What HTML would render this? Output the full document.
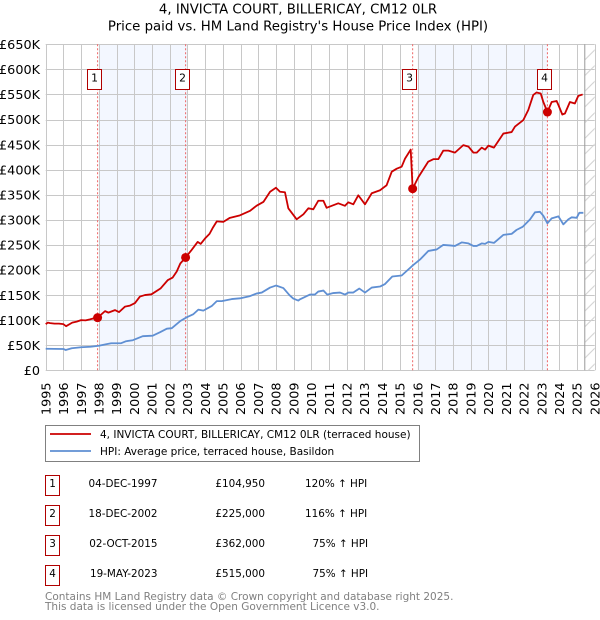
<!DOCTYPE html>
<html lang="en">
<head>
<meta charset="utf-8">
<title>4, INVICTA COURT, BILLERICAY, CM12 0LR</title>
<style>
html,body{margin:0;padding:0;background:#fff;}
svg{display:block;font-family:"DejaVu Sans","Liberation Sans",sans-serif;}
</style>
</head>
<body>
<svg id="chart" xmlns="http://www.w3.org/2000/svg" width="600" height="620" viewBox="0 0 600 620">
  <defs>
    <pattern id="hatch" patternUnits="userSpaceOnUse" width="15.7" height="15.7" patternTransform="translate(584.7 44.3)">
      <path d="M0 15.7L15.7 0" stroke="#d0d0d0" stroke-width="1" fill="none"/>
    </pattern>
  </defs>
  <text x="298" y="13.5" text-anchor="middle" font-size="13.3" fill="#000">4, INVICTA COURT, BILLERICAY, CM12 0LR</text>
  <text x="298" y="30.5" text-anchor="middle" font-size="13.3" fill="#000">Price paid vs. HM Land Registry's House Price Index (HPI)</text>
  <g id="bands"></g>
  <g id="grid"></g>
  <g id="future"></g>
  <g id="guides"></g>
  <g id="series"></g>
  <g id="markers"></g>
  <g id="labels"></g>
  <g id="yticks"></g>
  <g id="xticks"></g>

  <g>
    <rect x="45.5" y="425.5" width="374" height="36" fill="#fff" stroke="#808080" stroke-width="1"/>
    <line x1="50" x2="91" y1="434" y2="434" stroke="#cc0000" stroke-width="1.8"/>
    <text x="100" y="438" font-size="10.5" fill="#000">4, INVICTA COURT, BILLERICAY, CM12 0LR (terraced house)</text>
    <line x1="50" x2="91" y1="451" y2="451" stroke="#5f8fd3" stroke-width="1.8"/>
    <text x="100" y="455" font-size="10.5" fill="#000">HPI: Average price, terraced house, Basildon</text>
  </g>

  <g font-size="10.4" fill="#000">
    <g>
      <rect x="45.5" y="475.5" width="14" height="20" fill="#fff" stroke="#b00000"/>
      <text x="52.5" y="487" text-anchor="middle">1</text>
      <text x="157.5" y="487" text-anchor="end">04-DEC-1997</text>
      <text x="265" y="487" text-anchor="end">£104,950</text>
      <text x="305" y="487">120% ↑ HPI</text>
    </g>
    <g>
      <rect x="45.5" y="505.5" width="14" height="20" fill="#fff" stroke="#b00000"/>
      <text x="52.5" y="517" text-anchor="middle">2</text>
      <text x="157.5" y="517" text-anchor="end">18-DEC-2002</text>
      <text x="265" y="517" text-anchor="end">£225,000</text>
      <text x="305" y="517">116% ↑ HPI</text>
    </g>
    <g>
      <rect x="45.5" y="535.5" width="14" height="20" fill="#fff" stroke="#b00000"/>
      <text x="52.5" y="547" text-anchor="middle">3</text>
      <text x="157.5" y="547" text-anchor="end">02-OCT-2015</text>
      <text x="265" y="547" text-anchor="end">£362,000</text>
      <text x="312.5" y="547">75% ↑ HPI</text>
    </g>
    <g>
      <rect x="45.5" y="565.5" width="14" height="20" fill="#fff" stroke="#b00000"/>
      <text x="52.5" y="577" text-anchor="middle">4</text>
      <text x="157.5" y="577" text-anchor="end">19-MAY-2023</text>
      <text x="265" y="577" text-anchor="end">£515,000</text>
      <text x="312.5" y="577">75% ↑ HPI</text>
    </g>
  </g>
  <text x="45" y="600" font-size="10.5" fill="#808080">Contains HM Land Registry data © Crown copyright and database right 2025.</text>
  <text x="45" y="610" font-size="10.5" fill="#808080">This data is licensed under the Open Government Licence v3.0.</text>
</svg>
<script>
const yearTicks = [1995,1996,1997,1998,1999,2000,2001,2002,2003,2004,2005,2006,2007,2008,2009,2010,2011,2012,2013,2014,2015,2016,2017,2018,2019,2020,2021,2022,2023,2024,2025,2026];
const valueTicks = [0,50,100,150,200,250,300,350,400,450,500,550,600,650];
const valueTickLabels = ['£0','£50K','£100K','£150K','£200K','£250K','£300K','£350K','£400K','£450K','£500K','£550K','£600K','£650K'];

const priceYears = [1995,1995.12,1995.25,1995.5,1995.75,1996,1996.15,1996.5,1996.75,1997,1997.25,1997.5,1997.75,1997.93,1998.35,1998.54,1998.91,1999.14,1999.48,1999.76,2000.04,2000.32,2000.6,2000.97,2001.48,2001.9,2002.17,2002.4,2002.6,2002.9,2003.24,2003.58,2003.75,2004,2004.25,2004.45,2004.66,2005.03,2005.4,2005.97,2006.54,2006.9,2007.3,2007.67,2008,2008.23,2008.51,2008.7,2009.17,2009.55,2009.83,2010.11,2010.39,2010.68,2010.86,2011.52,2011.9,2012.09,2012.37,2012.65,2013.03,2013.41,2013.88,2014.25,2014.54,2014.82,2015.1,2015.29,2015.61,2015.72,2016.04,2016.6,2016.89,2017.17,2017.45,2017.74,2018.11,2018.58,2018.87,2019.15,2019.34,2019.62,2019.81,2020,2020.31,2020.84,2021.31,2021.5,2021.97,2022.25,2022.53,2022.72,2022.95,2023.1,2023.33,2023.57,2023.85,2023.95,2024.17,2024.32,2024.6,2024.88,2025.07,2025.32];
const priceValues = [92,95,94,93,93,92,88,95,97,100,99.6,101.6,104,104.95,118,115,120,116,127,129,134,147,150,151.5,163,180,185,197,213,225,240,256,252,263,272,285,297,296,304,309,318,328,336,356,364,356,355,323,301,311,323,321,338,338,324,333,328,335,331,349,331,353,359,369,396,402,406,422,440,362,385,416,421,421,438,438,434,449,446,434,434,444,440,448,444,472,475,486,499,519,549,554,552,535,515,535,537,529,510,512,535,532,547,550];

const hpiYears = [1995,1996,1996.13,1996.47,1997,1997.54,1998,1998.41,1998.7,1999.26,1999.54,1999.92,2000.48,2001.04,2001.46,2001.84,2002.12,2002.59,2002.96,2003.34,2003.62,2003.9,2004.37,2004.66,2004.94,2005.5,2005.97,2006.54,2006.9,2007.2,2007.67,2008,2008.42,2008.76,2008.98,2009.26,2009.36,2009.92,2010.2,2010.39,2010.68,2010.9,2011.24,2011.62,2011.9,2012.09,2012.37,2012.71,2013.03,2013.41,2013.88,2014.16,2014.57,2015.1,2015.38,2015.76,2016.14,2016.61,2017.08,2017.45,2017.83,2018.11,2018.49,2018.87,2019.15,2019.34,2019.62,2019.81,2020,2020.31,2020.84,2021.31,2021.59,2021.93,2022.35,2022.63,2022.91,2023.1,2023.33,2023.57,2023.95,2024.23,2024.51,2024.7,2024.98,2025.13,2025.36];
const hpiValues = [43,42.5,40.5,44,46,47,49,52,54,54,58,60,68,69,76,83,84,98,105.6,112,121,119,128,138,138,142,143.5,148,153,155,165,169,164,150,143,139,141.6,151,151,157,159,151,154,155,151,155,155,163,155,165,167,172,187,189,198,210,221,238,241,250,249,248,255,253,248,248,253,252,256,254,270,272,280,286,301,315,316,308,293,303,307,291,301,305,304,314,314];

const saleYears = [1997.93,2002.9,2015.72,2023.33];
const saleValues = [104.95,225,362,515];
const saleNumbers = ['1','2','3','4'];

const bandStarts = [1998,2016];
const bandEnds = [2003,2023.33];
const dataEndYear = 2025.44;

const NS = 'http://www.w3.org/2000/svg';
const PLOT_LEFT = 45.7, PLOT_RIGHT = 594.7, PLOT_TOP = 44.3, PLOT_BOTTOM = 370.3;
const xScale = function (year) { return PLOT_LEFT + (year - 1995) * (PLOT_RIGHT - PLOT_LEFT) / 31; };
const yScale = function (value) { return PLOT_BOTTOM - value * (PLOT_BOTTOM - PLOT_TOP) / 650; };
const make = function (tag, parentId) {
  const el = document.createElementNS(NS, tag);
  document.getElementById(parentId).appendChild(el);
  return el;
};
const setAll = function (el, pairs) {
  Object.keys(pairs).forEach(function (k) { el.setAttribute(k, pairs[k]); });
};
const pathFrom = function (xs, ys) {
  return xs.map(function (x, i) {
    return (i ? 'L' : 'M') + xScale(x).toFixed(2) + ' ' + yScale(ys[i]).toFixed(2);
  }).join('');
};

bandStarts.forEach(function (start, i) {
  const band = make('rect', 'bands');
  
  
  setAll(band, {x: xScale(start), y: PLOT_TOP, width: xScale(bandEnds[i]) - xScale(start), height: PLOT_BOTTOM - PLOT_TOP, fill: '#f3f7ff'});
});

valueTicks.forEach(function (v, i) {
  const py = Math.round(yScale(v)) + 0.5;
  const line = make('line', 'grid');
  
  
  setAll(line, {x1: PLOT_LEFT, x2: PLOT_RIGHT, y1: py, y2: py, stroke: '#c8c8c8', 'stroke-width': 1});
  const label = make('text', 'yticks');
  
  
  setAll(label, {x: 40, y: yScale(v) + 4.7, 'text-anchor': 'end', 'font-size': 12.8, fill: '#000'});
  label.textContent = valueTickLabels[i];
});

yearTicks.forEach(function (yr) {
  const px = Math.round(xScale(yr)) + 0.5;
  const line = make('line', 'grid');
  
  
  setAll(line, {x1: px, x2: px, y1: PLOT_TOP, y2: PLOT_BOTTOM, stroke: '#c8c8c8', 'stroke-width': 1});
  const label = make('text', 'xticks');
  
  
  setAll(label, {'text-anchor': 'start', 'font-size': 12.8, fill: '#000', transform: 'translate(' + (xScale(yr) + 4.7) + ' 415) rotate(-90)'});
  label.textContent = String(yr);
});

const hatch = make('rect', 'future');


setAll(hatch, {x: xScale(dataEndYear), y: PLOT_TOP, width: PLOT_RIGHT - xScale(dataEndYear), height: PLOT_BOTTOM - PLOT_TOP, fill: 'url(#hatch)'});
const endLine = make('line', 'future');


setAll(endLine, {x1: xScale(dataEndYear), x2: xScale(dataEndYear), y1: PLOT_TOP, y2: PLOT_BOTTOM, stroke: '#999', 'stroke-width': 1});

saleYears.forEach(function (yr) {
  const guide = make('line', 'guides');
  
  
  setAll(guide, {x1: xScale(yr), x2: xScale(yr), y1: PLOT_TOP, y2: PLOT_BOTTOM, stroke: '#ee6666', 'stroke-width': 1, 'stroke-dasharray': '2 2'});
});

const hpiLine = make('path', 'series');


setAll(hpiLine, {d: pathFrom(hpiYears, hpiValues), fill: 'none', stroke: '#5f8fd3', 'stroke-width': 1.8, 'stroke-linejoin': 'round'});
const priceLine = make('path', 'series');


setAll(priceLine, {d: pathFrom(priceYears, priceValues), fill: 'none', stroke: '#cc0000', 'stroke-width': 1.8, 'stroke-linejoin': 'round'});

saleYears.forEach(function (yr, i) {
  const dot = make('circle', 'markers');
  
  
  setAll(dot, {cx: xScale(yr), cy: yScale(saleValues[i]), r: 4.5, fill: '#cc0000'});
  const box = make('rect', 'labels');
  
  
  const bx = Math.round(xScale(yr) - 10.3) + 0.5;
  setAll(box, {x: bx, y: 69.5, width: 14, height: 20, fill: '#fff', stroke: '#b00000', 'stroke-width': 1});
  const num = make('text', 'labels');
  
  
  setAll(num, {x: bx + 7, y: 81.7, 'text-anchor': 'middle', 'font-size': 10.8, fill: '#000'});
  num.textContent = saleNumbers[i];
});
</script>
</body>
</html>
